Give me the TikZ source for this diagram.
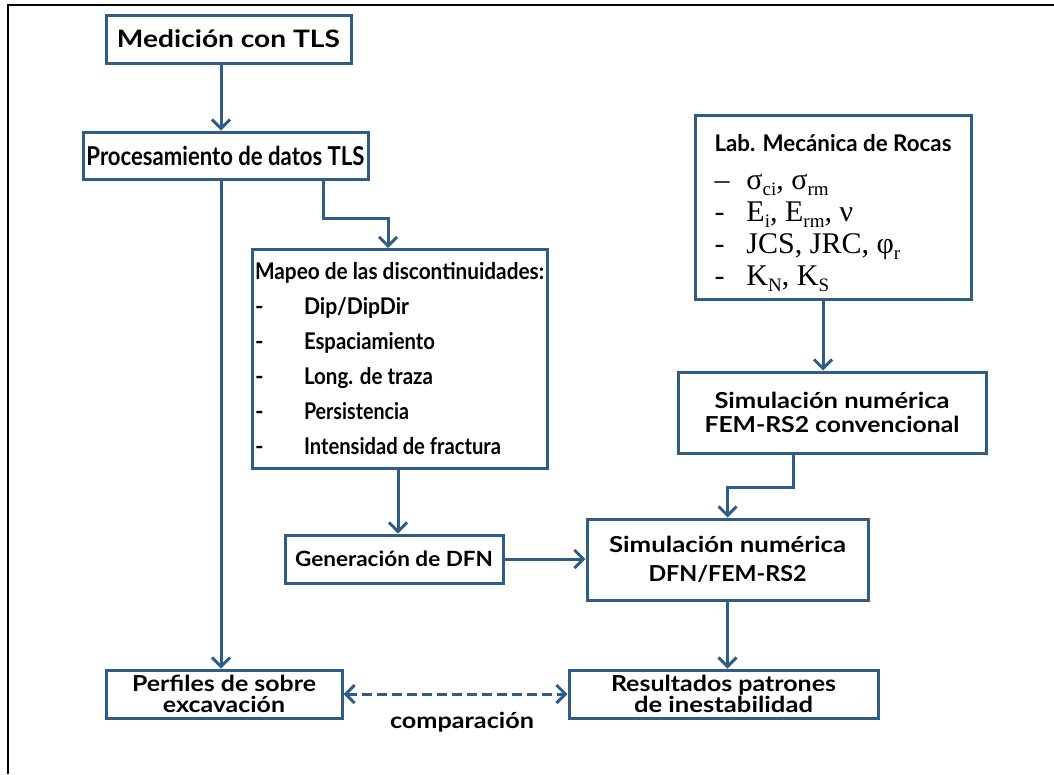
\documentclass[tikz,border=0pt]{standalone}
\usepackage{fontspec}
\usepackage{graphicx}
\setmainfont{Lato}
\newfontfamily\serifrm{Liberation Serif}
\usetikzlibrary{arrows.meta}
\definecolor{boxblue}{RGB}{47,93,135}
\newcommand\fitto[2]{\resizebox{#1}{\height}{#2}}
\newcommand\fs[1]{\fontsize{#1}{#1}\selectfont}
\newcommand\sbs[1]{\raisebox{-6pt}{\fontsize{19}{19}\selectfont #1}}
\newcommand\serl[2]{{\serifrm\fontsize{30}{32}\selectfont\makebox[32pt][l]{#1}#2}}
\begin{document}
\begin{tikzpicture}[x=1pt,y=-1pt,
  box/.style={draw=boxblue, line width=3pt, inner sep=0pt, font=\bfseries},
  arr/.style={draw=boxblue, line width=3pt, -{Straight Barb[length=9pt,width=18pt]}},
  darr/.style={draw=boxblue, line width=3pt, dash pattern=on 10pt off 5pt,
    {Straight Barb[length=9pt,width=18pt]}-{Straight Barb[length=9pt,width=18pt]}},
  two/.style={align=center, font={\bfseries\fontsize{22}{#1}\selectfont}}]
\useasboundingbox (0,0) rectangle (1054,774);
\draw[line width=1.5pt] (8,774) -- (8,5) -- (1054,5);

\node[box, minimum width=245pt, minimum height=48pt] (med) at (228.5,39)
  {\fs{24}\fitto{223pt}{Medición con TLS}};
\node[box, minimum width=285pt, minimum height=47pt] (proc) at (225.5,155.5)
  {\fs{26}\fitto{278pt}{Procesamiento de datos TLS}};
\node[box, minimum width=295pt, minimum height=219pt, align=left,
  font={\bfseries\fontsize{23}{35}\selectfont}] (map) at (399.5,359)
  {\fitto{289pt}{Mapeo de las discontinuidades:}\\
   \makebox[49pt][l]{-}\fitto{105pt}{Dip/DipDir}\\
   \makebox[49pt][l]{-}\fitto{131pt}{Espaciamiento}\\
   \makebox[49pt][l]{-}\fitto{129pt}{Long. de traza}\\
   \makebox[49pt][l]{-}\fitto{105pt}{Persistencia}\\
   \makebox[49pt][l]{-}\fitto{197pt}{Intensidad de fractura}};
\node[box, minimum width=218pt, minimum height=48pt] (gen) at (394,559)
  {\fs{21}\fitto{198pt}{Generación de DFN}};
\node[box, two=29, minimum width=281pt, minimum height=81pt] (simdfn) at (727.5,559.5)
  {\fitto{237pt}{Simulación numérica}\\\fitto{158pt}{DFN/FEM-RS2}};
\node[box, two=21, minimum width=309pt, minimum height=48pt] (res) at (723.5,694)
  {\fitto{225pt}{Resultados patrones}\\\fitto{179pt}{de inestabilidad}};
\node[box, two=21, minimum width=236pt, minimum height=48pt] (perf) at (224,694)
  {\fitto{184pt}{Perfiles de sobre}\\\fitto{122pt}{excavación}};
\node[box, align=left, minimum width=276pt, minimum height=184pt,
  font={\fontsize{30}{32}\selectfont}] (lab) at (833,207)
  {{\bfseries\fs{23}\rule{0pt}{30pt}\fitto{237pt}{Lab. Mecánica de Rocas}}\\[6pt]
   \serl{–}{σ\sbs{ci}, σ\sbs{rm}}\\
   \serl{-}{E\sbs{i}, E\sbs{rm}, ν}\\
   \serl{-}{JCS, JRC, φ\sbs{r}}\\
   \serl{-}{K\sbs{N}, K\sbs{S}}};
\node[box, two=24, minimum width=308pt, minimum height=81pt] (simfem) at (832,412.5)
  {\fitto{235pt}{Simulación numérica}\\\fitto{255pt}{FEM-RS2 convencional}};
\node[font=\bfseries\fs{22}] (cmp) at (462,722) {\fitto{144pt}{comparación}};

\coordinate (xA) at (221,0);
\coordinate (xB) at (323,0);
\coordinate (xC) at (388,0);
\coordinate (xD) at (398,0);
\coordinate (xE) at (823,0);
\coordinate (xF) at (793,0);

\draw[arr] (med.south -| xA) -- (proc.north -| xA);
\draw[arr] (proc.south -| xA) -- (perf.north -| xA);
\draw[arr] (proc.south -| xB) -- ++(0,38) -| (map.north -| xC);
\draw[arr] (map.south -| xD) -- (gen.north -| xD);
\draw[arr] (gen.east) -- (simdfn.west |- gen.east);
\draw[arr] (lab.south -| xE) -- (simfem.north -| xE);
\draw[arr] (simfem.south -| xF) -- ++(0,33) -| (simdfn.north);
\draw[arr] (simdfn.south) -- (res.north -| simdfn.south);
\draw[darr] (perf.east) -- (res.west);
\end{tikzpicture}
\end{document}
